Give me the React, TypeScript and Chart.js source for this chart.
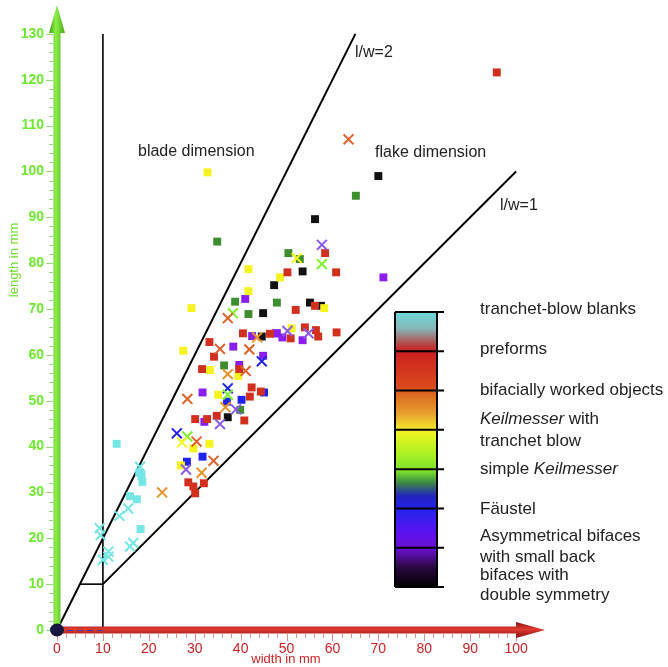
import React, { useEffect, useRef } from "react";
import { Chart, registerables } from "chart.js";

Chart.register(...registerables);

type P = [number, number];

// ---- data (width mm, length mm) ----
const cyanSquares: P[] = [[13.0, 40.6], [17.9, 34.3], [18.4, 33.6], [18.6, 32.3], [15.9, 29.2], [17.4, 28.5], [18.2, 22.0]];
const cyanCrosses: P[] = [[18.1, 35.6], [15.5, 26.5], [13.6, 24.9], [9.3, 22.2], [9.5, 20.7], [15.9, 18.2], [16.6, 19.0], [11.2, 17.1], [10.0, 15.3], [11.2, 16.0]];
const redSquares: P[] = [[28.6, 32.2], [29.7, 31.3], [30.1, 29.8], [32.0, 32.0], [30.1, 46.0], [32.7, 46.0], [34.8, 46.7], [40.8, 45.7], [33.2, 62.8], [34.2, 59.6], [40.5, 64.7], [46.4, 64.6], [31.6, 56.9], [39.7, 56.9], [42.4, 52.9], [42.0, 50.9], [44.4, 52.0], [58.4, 82.2], [50.2, 78.0], [60.8, 78.0], [56.2, 70.7], [52.0, 69.8], [50.9, 63.6], [54.0, 66.0], [56.4, 65.4], [56.9, 64.0], [60.9, 64.9], [95.8, 121.6]];
const orangeRedCrosses: P[] = [[34.1, 36.9], [30.4, 41.1], [37.2, 68.0], [35.5, 61.3], [41.9, 61.2], [41.1, 56.5], [28.4, 50.4], [63.5, 107.0]];
const orangeCrosses: P[] = [[22.9, 30.0], [31.5, 34.3], [43.6, 63.8], [37.2, 55.8], [36.7, 48.6]];
const yellowSquares: P[] = [[27.0, 35.9], [29.7, 39.6], [33.2, 40.6], [29.3, 70.2], [27.5, 60.9], [33.3, 56.7], [39.5, 55.4], [35.1, 51.3], [32.8, 99.8], [41.7, 78.7], [41.7, 73.9], [48.6, 76.9], [58.2, 70.2], [51.1, 65.8]];
const yellowCrosses: P[] = [[27.2, 40.9], [52.2, 81.1]];
const lightGreenCrosses: P[] = [[28.4, 42.2], [38.3, 69.1], [37.2, 51.3], [57.7, 79.8]];
const darkGreenSquares: P[] = [[38.8, 71.6], [41.7, 68.9], [47.9, 71.4], [36.4, 57.7], [39.9, 48.0], [50.4, 82.2], [52.9, 80.9], [34.9, 84.7], [65.1, 94.7]];
const blueSquares: P[] = [[28.3, 36.7], [31.7, 37.8], [45.1, 51.8], [40.2, 50.2], [37.0, 49.8]];
const blueCrosses: P[] = [[26.1, 42.9], [44.6, 58.6], [37.2, 52.7]];
const purpleSquares: P[] = [[32.1, 45.4], [38.4, 61.8], [42.5, 64.1], [47.9, 64.7], [44.9, 59.8], [39.7, 57.8], [31.7, 51.8], [71.1, 76.9], [41.0, 72.2], [47.7, 64.7], [49.1, 63.8], [53.5, 63.2]];
const purpleCrosses: P[] = [[28.1, 35.0], [35.5, 44.9], [39.0, 48.1], [57.7, 84.0], [50.2, 65.2], [54.8, 64.7]];
const blackSquares: P[] = [[37.2, 46.4], [44.9, 69.1], [53.5, 78.2], [47.3, 75.2], [55.1, 71.4], [57.5, 70.7], [44.6, 64.0], [70.0, 99.0], [56.2, 89.6]];

// ratio / dimension lines
const lineRatio2: P[] = [[0, 0], [65, 130]];
const lineRatio1: P[] = [[10, 10], [100, 100]];
const lineWidth10: P[] = [[10, 0], [10, 130]];
const lineLength10: P[] = [[5, 10], [10, 10]];

const xTickValues = [0, 10, 20, 30, 40, 50, 60, 70, 80, 90, 100];
const yTickValues = [0, 10, 20, 30, 40, 50, 60, 70, 80, 90, 100, 110, 120, 130];

const xTitle = "width in mm";
const yTitle = "length in mm";

const annotations = ["blade dimension", "flake dimension", "l/w=2", "l/w=1"];

// legend lines: segments [text, italic]
const legendLines: [string, boolean][][] = [
  [["tranchet-blow blanks", false]],
  [["preforms", false]],
  [["bifacially worked objects", false]],
  [["Keilmesser", true], [" with", false]],
  [["tranchet blow", false]],
  [["simple ", false], ["Keilmesser", true]],
  [["Fäustel", false]],
  [["Asymmetrical bifaces", false]],
  [["with small back", false]],
  [["bifaces with", false]],
  [["double symmetry", false]],
];

const gradientStops: [number, string][] = [
  [0, "#6edada"],
  [0.06, "#86b8b8"],
  [0.12, "#b84040"],
  [0.143, "#cc2020"],
  [0.27, "#d8481c"],
  [0.3, "#dc6a22"],
  [0.37, "#e8a030"],
  [0.425, "#f2e828"],
  [0.44, "#eef422"],
  [0.52, "#a8f024"],
  [0.58, "#78e02c"],
  [0.62, "#3c8a44"],
  [0.67, "#2222c0"],
  [0.72, "#2424ec"],
  [0.8, "#5a12f0"],
  [0.86, "#6a10d0"],
  [0.93, "#2a0840"],
  [1, "#000000"],
];

const FONT = "'Liberation Sans', Arial, sans-serif";

const toXY = (a: P[]) => a.map(([x, y]) => ({ x, y }));

const decorPlugin = {
  id: "decor",
  afterDatasetsDraw(chart: any) {
    const ctx: CanvasRenderingContext2D = chart.ctx;
    const xs = chart.scales.x;
    const ys = chart.scales.y;
    const x0 = xs.getPixelForValue(0);
    const y0 = ys.getPixelForValue(0);
    const xEnd = chart.chartArea.right;
    const yTop = chart.chartArea.top;
    ctx.save();

    // minor / major ticks
    ctx.lineWidth = 1;
    ctx.strokeStyle = "#e59090";
    for (let v = 0; v <= 100; v += 2) {
      const px = Math.round(xs.getPixelForValue(v)) + 0.5;
      const len = v % 10 === 0 ? 7 : 4;
      ctx.beginPath();
      ctx.moveTo(px, y0 + 4);
      ctx.lineTo(px, y0 + 4 + len);
      ctx.stroke();
    }
    ctx.strokeStyle = "#9ad878";
    for (let v = 0; v <= 130; v += 2) {
      const py = Math.round(ys.getPixelForValue(v)) + 0.5;
      const len = v % 10 === 0 ? 7 : 4;
      ctx.beginPath();
      ctx.moveTo(x0 - 4, py);
      ctx.lineTo(x0 - 4 - len, py);
      ctx.stroke();
    }

    // y axis bar + arrow
    const gy = ctx.createLinearGradient(x0 - 8, 0, x0 + 8, 0);
    gy.addColorStop(0, "#3c9a12");
    gy.addColorStop(0.42, "#8ef048");
    gy.addColorStop(1, "#48a818");
    ctx.fillStyle = gy;
    ctx.fillRect(x0 - 3.5, yTop + 27, 7, y0 - yTop - 27);
    ctx.beginPath();
    ctx.moveTo(x0 - 8, yTop + 28);
    ctx.lineTo(x0 + 8, yTop + 28);
    ctx.lineTo(x0, yTop);
    ctx.closePath();
    ctx.fill();

    // x axis bar + arrow
    const gx = ctx.createLinearGradient(0, y0 - 8, 0, y0 + 8);
    gx.addColorStop(0, "#8a1010");
    gx.addColorStop(0.45, "#e03a30");
    gx.addColorStop(1, "#8a1010");
    ctx.fillStyle = gx;
    ctx.fillRect(x0, y0 - 3.5, xEnd - 28 - x0, 7);
    ctx.beginPath();
    ctx.moveTo(xEnd - 29, y0 - 8);
    ctx.lineTo(xEnd - 29, y0 + 8);
    ctx.lineTo(xEnd, y0);
    ctx.closePath();
    ctx.fill();

    // dashed line on the x axis, 0-10
    ctx.strokeStyle = "#3a3aa0";
    ctx.lineWidth = 1;
    ctx.setLineDash([6, 4]);
    ctx.beginPath();
    ctx.moveTo(x0, y0 + 0.5);
    ctx.lineTo(xs.getPixelForValue(10), y0 + 0.5);
    ctx.stroke();
    ctx.setLineDash([]);

    // origin dot
    ctx.fillStyle = "#16163e";
    ctx.beginPath();
    ctx.ellipse(x0, y0, 7, 6.5, 0, 0, Math.PI * 2);
    ctx.fill();

    // axis titles
    ctx.font = `13px ${FONT}`;
    ctx.fillStyle = "#cc2222";
    ctx.textAlign = "center";
    ctx.textBaseline = "middle";
    ctx.fillText(xTitle, 286, 659);
    ctx.save();
    ctx.translate(14, 260);
    ctx.rotate(-Math.PI / 2);
    ctx.fillStyle = "#6edc2e";
    ctx.fillText(yTitle, 0, 0);
    ctx.restore();

    // annotations
    ctx.font = `16px ${FONT}`;
    ctx.fillStyle = "#222";
    ctx.textAlign = "left";
    ctx.fillText(annotations[0], 138, 152);
    ctx.fillText(annotations[1], 375, 153);
    ctx.fillText(annotations[2], 355, 53);
    ctx.fillText(annotations[3], 500, 206);

    // colour bar legend
    const bx = 395, bw = 42, btop = 312, bbot = 587;
    const g = ctx.createLinearGradient(0, btop, 0, bbot);
    gradientStops.forEach(([o, c]) => g.addColorStop(o, c));
    ctx.fillStyle = g;
    ctx.fillRect(bx, btop, bw, bbot - btop);
    ctx.strokeStyle = "#000";
    ctx.lineWidth = 2;
    ctx.beginPath();
    ctx.moveTo(bx, btop);
    ctx.lineTo(bx, bbot);
    ctx.moveTo(bx + bw, btop);
    ctx.lineTo(bx + bw, bbot);
    for (let i = 0; i <= 7; i++) {
      const ty = btop + ((bbot - btop) * i) / 7;
      ctx.moveTo(bx, ty);
      ctx.lineTo(bx + bw + 7, ty);
    }
    ctx.stroke();

    const ly = [309, 349, 390, 419, 441, 469, 509, 536, 557, 575, 595];
    ctx.fillStyle = "#222";
    ctx.textBaseline = "middle";
    legendLines.forEach((segs, i) => {
      let x = 480;
      segs.forEach(([t, it]) => {
        ctx.font = `${it ? "italic " : ""}17px ${FONT}`;
        ctx.fillText(t, x, ly[i]);
        x += ctx.measureText(t).width;
      });
    });

    ctx.restore();
  },
};

function sq(data: P[], color: string) {
  return {
    type: "scatter" as const,
    data: toXY(data),
    pointStyle: "rect",
    pointRadius: 5.6,
    pointHoverRadius: 5.6,
    backgroundColor: color,
    borderColor: color,
    borderWidth: 0,
    order: 1,
  };
}
function cr(data: P[], color: string) {
  return {
    type: "scatter" as const,
    data: toXY(data),
    pointStyle: "crossRot",
    pointRadius: 7,
    pointHoverRadius: 7,
    backgroundColor: color,
    borderColor: color,
    borderWidth: 2,
    order: 0,
  };
}
function ln(data: P[], width: number) {
  return {
    type: "line" as const,
    data: toXY(data),
    showLine: true,
    borderColor: "#000",
    borderWidth: width,
    pointRadius: 0,
    fill: false,
    order: 10,
  };
}

export default function App() {
  const ref = useRef<HTMLCanvasElement | null>(null);
  useEffect(() => {
    if (!ref.current) return;
    const chart = new Chart(ref.current, {
      type: "scatter",
      data: {
        datasets: [
          ln(lineRatio2, 2),
          ln(lineRatio1, 2),
          ln(lineWidth10, 1.6),
          ln(lineLength10, 1.6),
          sq(cyanSquares, "#74e6e6"),
          cr(cyanCrosses, "#74e6e6"),
          sq(redSquares, "#d2301e"),
          cr(orangeRedCrosses, "#e0602a"),
          cr(orangeCrosses, "#e8942a"),
          sq(yellowSquares, "#f6f41e"),
          cr(yellowCrosses, "#f6f41e"),
          cr(lightGreenCrosses, "#7ef02c"),
          sq(darkGreenSquares, "#3e8e30"),
          sq(blueSquares, "#2222f0"),
          cr(blueCrosses, "#2222f0"),
          sq(purpleSquares, "#8a1ef0"),
          cr(purpleCrosses, "#8a5af0"),
          sq(blackSquares, "#111111"),
        ] as any,
      },
      options: {
        responsive: false,
        animation: false,
        events: [],
        layout: { autoPadding: false, padding: { top: 5, right: 123, left: 0, bottom: 0 } },
        plugins: { legend: { display: false }, tooltip: { enabled: false } },
        scales: {
          x: {
            type: "linear",
            min: 0,
            max: 106.3,
            afterBuildTicks: (s: any) => {
              s.ticks = xTickValues.map((v) => ({ value: v }));
            },
            afterFit: (s: any) => {
              s.height = 37;
              s.paddingLeft = 0;
              s.paddingRight = 0;
            },
            grid: { display: false, drawTicks: false },
            border: { display: false },
            ticks: {
              color: "#cc2222",
              font: { family: FONT, size: 14 },
              padding: 11,
              autoSkip: false,
              maxRotation: 0,
            },
          },
          y: {
            type: "linear",
            min: 0,
            max: 136.3,
            afterBuildTicks: (s: any) => {
              s.ticks = yTickValues.map((v) => ({ value: v }));
            },
            afterFit: (s: any) => {
              s.width = 57;
              s.paddingTop = 0;
              s.paddingBottom = 0;
            },
            grid: { display: false, drawTicks: false },
            border: { display: false },
            ticks: {
              color: "#6ee830",
              font: { family: FONT, size: 14, weight: "bold" },
              padding: 13,
              autoSkip: false,
            },
          },
        },
      },
      plugins: [decorPlugin],
    });
    return () => chart.destroy();
  }, []);
  return (
    <div style={{ position: "absolute", left: 0, top: 0, width: 668, height: 667, background: "#fff" }}>
      <canvas ref={ref} width={668} height={667} style={{ display: "block" }} />
    </div>
  );
}
